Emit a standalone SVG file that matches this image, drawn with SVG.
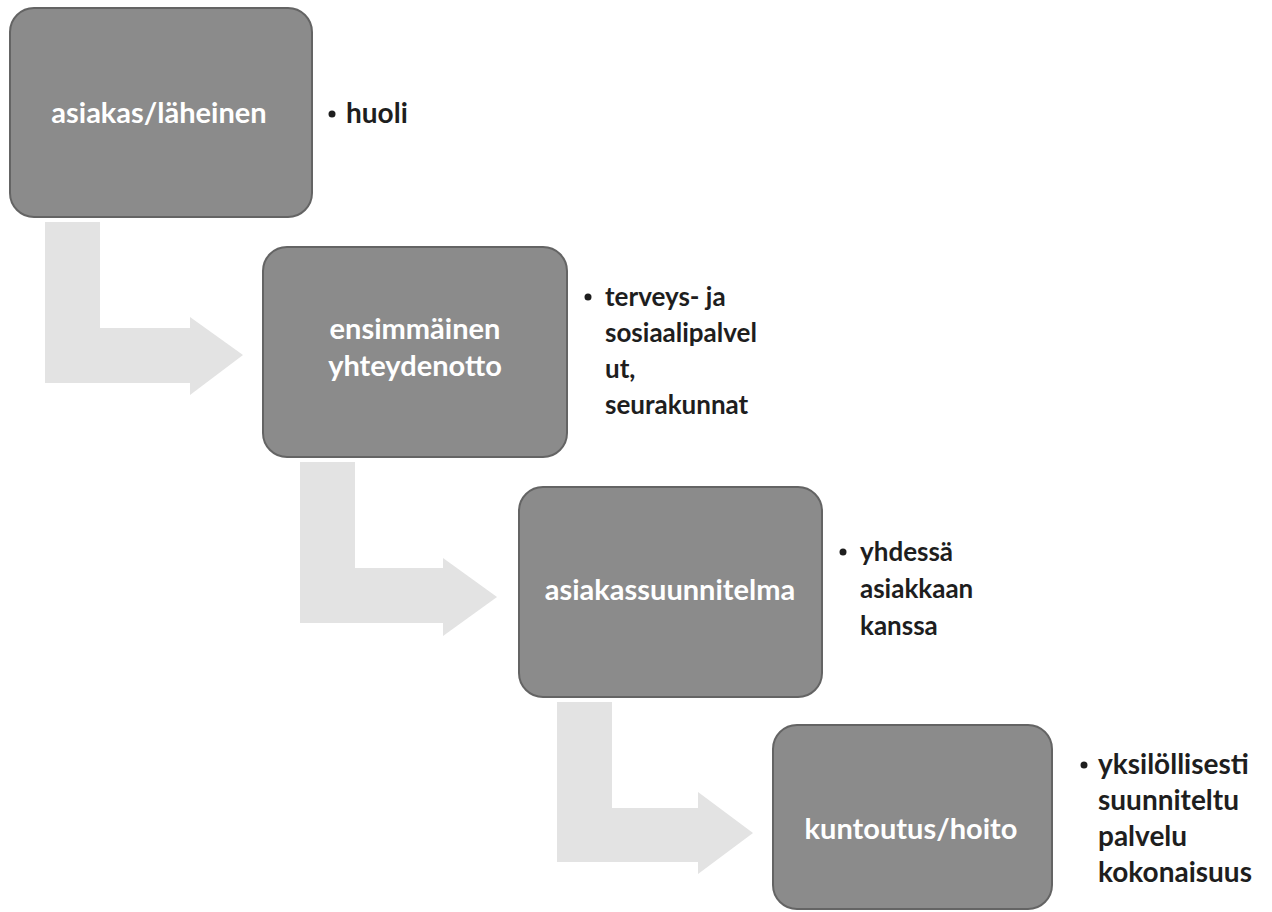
<svg xmlns="http://www.w3.org/2000/svg" width="1272" height="912" viewBox="0 0 1272 912">
<style>
.box{fill:#8b8b8b;stroke:#646464;stroke-width:2}
.arrow{fill:#e3e3e3;stroke:none}
.lbl{font-family:Lato,"Open Sans","Liberation Sans",sans-serif;font-size:29px;font-weight:700;fill:#ffffff;text-anchor:middle}
.lst{font-family:Lato,"Open Sans","Liberation Sans",sans-serif;font-size:26px;font-weight:700;fill:#1e1e1e}
.big{font-size:28px}
.dot{fill:#1e1e1e}
</style>
<rect width="1272" height="912" fill="#ffffff"/>
<g id="connectors">
<path class="arrow" d="M45,222 H100 V328 H190 V317 L243,355 L190,395 V383 H45 Z"/>
<path class="arrow" d="M300,462 H355 V568 H443 V558 L497,597 L443,636 V623 H300 Z"/>
<path class="arrow" d="M557,702 H612 V808 H698 V792 L753,833 L698,874 V862 H557 Z"/>
</g>
<g id="node1">
<rect class="box" x="10" y="8" width="302" height="209" rx="24"/>
<text class="lbl" x="159" y="123">asiakas/läheinen</text>
<circle class="dot" cx="332" cy="114" r="3.5"/>
<text class="lst big" x="346" y="123">huoli</text>
</g>
<g id="node2">
<rect class="box" x="263" y="247" width="304" height="210" rx="24"/>
<text class="lbl" x="415" y="339">ensimmäinen</text>
<text class="lbl" x="415" y="376">yhteydenotto</text>
<circle class="dot" cx="588" cy="297" r="3.5"/>
<text class="lst" x="605" y="306">terveys- ja</text>
<text class="lst" x="605" y="342">sosiaalipalvel</text>
<text class="lst" x="605" y="378">ut,</text>
<text class="lst" x="605" y="414">seurakunnat</text>
</g>
<g id="node3">
<rect class="box" x="519" y="487" width="303" height="210" rx="24"/>
<text class="lbl" x="670" y="600">asiakassuunnitelma</text>
<circle class="dot" cx="843" cy="552" r="3.5"/>
<text class="lst" x="860" y="561">yhdessä</text>
<text class="lst" x="860" y="598">asiakkaan</text>
<text class="lst" x="860" y="635">kanssa</text>
</g>
<g id="node4">
<rect class="box" x="773" y="725" width="279" height="184" rx="24"/>
<text class="lbl" x="911" y="839">kuntoutus/hoito</text>
<circle class="dot" cx="1084" cy="765" r="3.5"/>
<text class="lst big" x="1098" y="774">yksilöllisesti</text>
<text class="lst big" x="1098" y="810">suunniteltu</text>
<text class="lst big" x="1098" y="846">palvelu</text>
<text class="lst big" x="1098" y="882">kokonaisuus</text>
</g>
</svg>
